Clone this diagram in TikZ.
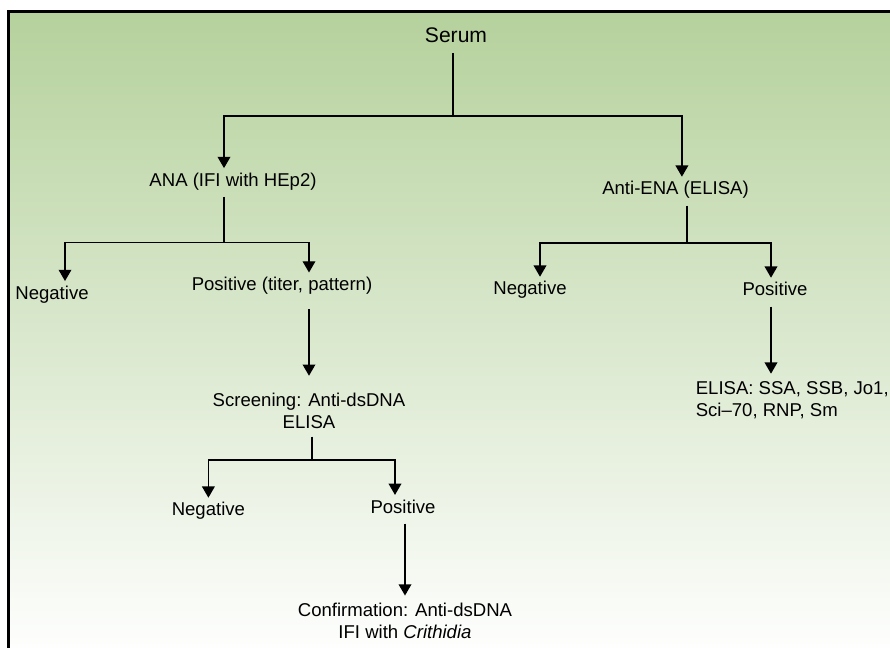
\documentclass[tikz,border=0pt]{standalone}
\usepackage{fontspec}
\setmainfont{Liberation Sans}
\usetikzlibrary{arrows.meta}
\definecolor{bgtop}{RGB}{181,209,156}

\begin{document}
\begin{tikzpicture}[>={Triangle[length=8pt,width=9pt]}, line width=1pt,
  lbl/.style={font=\fontsize{13.2}{15.5}\selectfont, text height=0.75em, text depth=0.2em,
    inner xsep=2pt, inner ysep=5.5pt, outer sep=0pt, anchor=base},
  lbltwo/.style={font=\fontsize{13.2}{15.5}\selectfont, inner xsep=2pt, inner ysep=5.5pt, outer sep=0pt}]
  \useasboundingbox (0,0) rectangle (22.25,16.2);
  \clip (0,0) rectangle (22.25,16.2);
  \shade[top color=bgtop, bottom color=white] (0.2125,-0.3) rectangle (22.6,15.9125);
  \draw[line width=1.6pt, black] (0.2125,-0.3) rectangle (22.6,15.9125);

  \node[lbl, font=\fontsize{15}{18}\selectfont] (serum) at (11.4,15.14) {Serum};
  \node[lbl] (ana) at (5.825,11.54) {ANA (IFI with HEp2)};
  \node[lbl] (ena) at (16.8875,11.325) {Anti-ENA (ELISA)};
  \node[lbl] (neg1) at (1.3,8.717) {Negative};
  \node[lbl] (pos1) at (7.05,8.93) {Positive (titer, pattern)};
  \node[lbl] (neg2) at (13.25,8.825) {Negative};
  \node[lbl] (pos2) at (19.375,8.8) {Positive};
  \node[lbltwo, align=center] (screen) at (7.725,5.92) {Screening: Anti-dsDNA\\ELISA};
  \node[lbltwo, align=left, anchor=west] (elisa) at (17.325,6.2) {ELISA: SSA, SSB, Jo1,\\Sci--70, RNP, Sm};
  \node[lbl] (neg3) at (5.21,3.3) {Negative};
  \node[lbl] (pos3) at (10.075,3.37) {Positive};
  \node[lbltwo, align=center] (confirm) at (10.125,0.675) {Confirmation: Anti-dsDNA\\IFI with \textit{Crithidia}};

  \coordinate (j0) at (11.325,13.3);
  \coordinate (j1) at (5.6,10.13);
  \coordinate (j2) at (17.175,10.125);
  \coordinate (j3) at (7.8,4.7);

  \draw (serum.south -| j0) -- (j0);
  \draw[->] (j0) -| (ana.north -| j1);
  \draw[->] (j0) -| ([xshift=1.6mm]ena.north);
  \draw (ana.south -| j1) -- (j1);
  \draw[->] (j1) -| ([xshift=3.25mm]neg1.north);
  \draw[->] (j1) -| ([xshift=6.75mm]pos1.north);
  \draw[->] ([yshift=-2mm]pos1.south -| screen.north) -- ([yshift=2.5mm]screen.north);
  \draw (ena.south -| j2) -- (j2);
  \draw[->] (j2) -| ([xshift=2.5mm]neg2.north);
  \draw[->] (j2) -| ([xshift=-1mm]pos2.north);
  \draw[->] ([xshift=-1mm]pos2.south) -- ([xshift=-1mm]pos2.south |- elisa.north);
  \draw (screen.south -| j3) -- (j3);
  \draw[->] (j3) -| (neg3.north);
  \draw[->] (j3) -| ([xshift=-2mm]pos3.north);
  \draw[->] (pos3.south -| confirm.north) -- (confirm.north);
\end{tikzpicture}
\end{document}
